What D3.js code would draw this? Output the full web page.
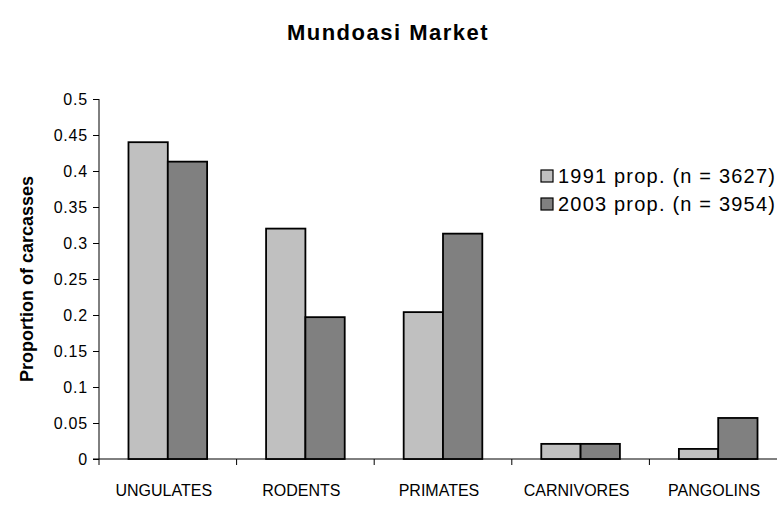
<!DOCTYPE html>
<html>
<head>
<meta charset="utf-8">
<script src="https://cdn.jsdelivr.net/npm/d3@7"></script>
<style>
    body { margin: 0; background: #fff; }
    text { font-family: "Liberation Sans", Arial, sans-serif; }
</style>
</head>
<body>
<script>
//chart data
var categories = [ 'UNGULATES', 'RODENTS', 'PRIMATES', 'CARNIVORES', 'PANGOLINS' ];
var seriesNames = [ '1991 prop. (n = 3627)', '2003 prop. (n = 3954)' ];
var values1991 = [ 0.440, 0.320, 0.204, 0.021, 0.014 ];
var values2003 = [ 0.413, 0.197, 0.313, 0.021, 0.057 ];
var yTicks = [ 0, 0.05, 0.1, 0.15, 0.2, 0.25, 0.3, 0.35, 0.4, 0.45, 0.5 ];
var colors = [ '#c0c0c0', '#808080' ];

var series = [ values1991, values2003 ];

//svg canvas
var canvas = d3.select( 'body' )
    .append( 'svg' )
    .attr( 'width' , 777 )
    .attr( 'height', 526 );

//plot area, runs off the right edge like the original
var plotLeft = 99, plotRight = 787, plotTop = 99, plotBottom = 459;

var x = d3.scaleBand()
    .domain( categories )
    .range( [ plotLeft, plotRight ] );

//two bars per category, gap width 150%
var barW = x.bandwidth() / 3.5;
var xSeries = d3.scaleBand()
    .domain( [ 0, 1 ] )
    .range( [ 0.75 * barW, 2.75 * barW ] );

var y = d3.scaleLinear()
    .domain( [ 0, 0.5 ] )
    .range( [ plotBottom, plotTop ] );

//title
canvas.append( 'text' )
    .attr( 'x' , 388 ).attr( 'y' , 40 )
    .attr( 'text-anchor' , 'middle' )
    .attr( 'font-size' , 22 )
    .attr( 'font-weight' , 'bold' )
    .attr( 'letter-spacing' , 1.5 )
    .text( 'Mundoasi Market' );

//y axis
var yAxis = canvas.append( 'g' )
    .attr( 'transform' , 'translate(' + plotLeft + ',0)' )
    .call( d3.axisLeft( y ).tickValues( yTicks ).tickSize( 6 ).tickPadding( 5 ).tickFormat( d3.format( '' ) ) );
yAxis.selectAll( 'text' )
    .attr( 'font-size' , 16 )
    .attr( 'letter-spacing' , 0.8 )
    .attr( 'fill' , '#000' )
    .style( 'font-family' , '"Liberation Sans", Arial, sans-serif' );
yAxis.selectAll( 'line, path' ).attr( 'stroke' , '#000' );
yAxis.select( '.domain' ).attr( 'd' , 'M0,' + plotBottom + 'V' + plotTop );

//x axis with ticks between categories
var xAxis = canvas.append( 'g' )
    .attr( 'transform' , 'translate(0,' + plotBottom + ')' );
xAxis.append( 'line' )
    .attr( 'x1' , plotLeft - 6 ).attr( 'x2' , plotRight )
    .attr( 'stroke' , '#000' );
xAxis.selectAll( '.sep' )
    .data( categories )
    .enter().append( 'line' )
    .attr( 'x1' , function( d ) { return x( d ); } )
    .attr( 'x2' , function( d ) { return x( d ); } )
    .attr( 'y1' , 0 ).attr( 'y2' , 6 )
    .attr( 'stroke' , '#000' );
xAxis.selectAll( '.cat' )
    .data( categories )
    .enter().append( 'text' )
    .attr( 'x' , function( d ) { return x( d ) + x.bandwidth() / 2 - 4; } )
    .attr( 'y' , 37 )
    .attr( 'text-anchor' , 'middle' )
    .attr( 'font-size' , 16 )
    .text( function( d ) { return d; } );

//y title
canvas.append( 'text' )
    .attr( 'transform' , 'translate(33,' + ( ( plotTop + plotBottom ) / 2 ) + ') rotate(-90)' )
    .attr( 'text-anchor' , 'middle' )
    .attr( 'font-size' , 18 )
    .attr( 'font-weight' , 'bold' )
    .text( 'Proportion of carcasses' );

//bars
series.forEach( function( vals, s ) {
    canvas.append( 'g' ).selectAll( 'rect' )
        .data( vals )
        .enter().append( 'rect' )
        .attr( 'x' , function( d, i ) { return x( categories[ i ] ) + xSeries( s ); } )
        .attr( 'y' , function( d ) { return y( d ); } )
        .attr( 'width' , xSeries.bandwidth() )
        .attr( 'height' , function( d ) { return y( 0 ) - y( d ); } )
        .attr( 'fill' , colors[ s ] )
        .attr( 'stroke' , '#000' )
        .attr( 'stroke-width' , 1.8 );
} );

//legend
var legend = canvas.append( 'g' ).selectAll( 'g' )
    .data( seriesNames )
    .enter().append( 'g' )
    .attr( 'transform' , function( d, i ) { return 'translate(541,' + ( 170 + i * 28 ) + ')'; } );
legend.append( 'rect' )
    .attr( 'width' , 12 ).attr( 'height' , 12 )
    .attr( 'fill' , function( d, i ) { return colors[ i ]; } )
    .attr( 'stroke' , '#000' )
    .attr( 'stroke-width' , 1.2 );
legend.append( 'text' )
    .attr( 'x' , 17 ).attr( 'y' , 13 )
    .attr( 'font-size' , 20 )
    .attr( 'letter-spacing' , 1.2 )
    .text( function( d ) { return d; } );
</script>
</body>
</html>
